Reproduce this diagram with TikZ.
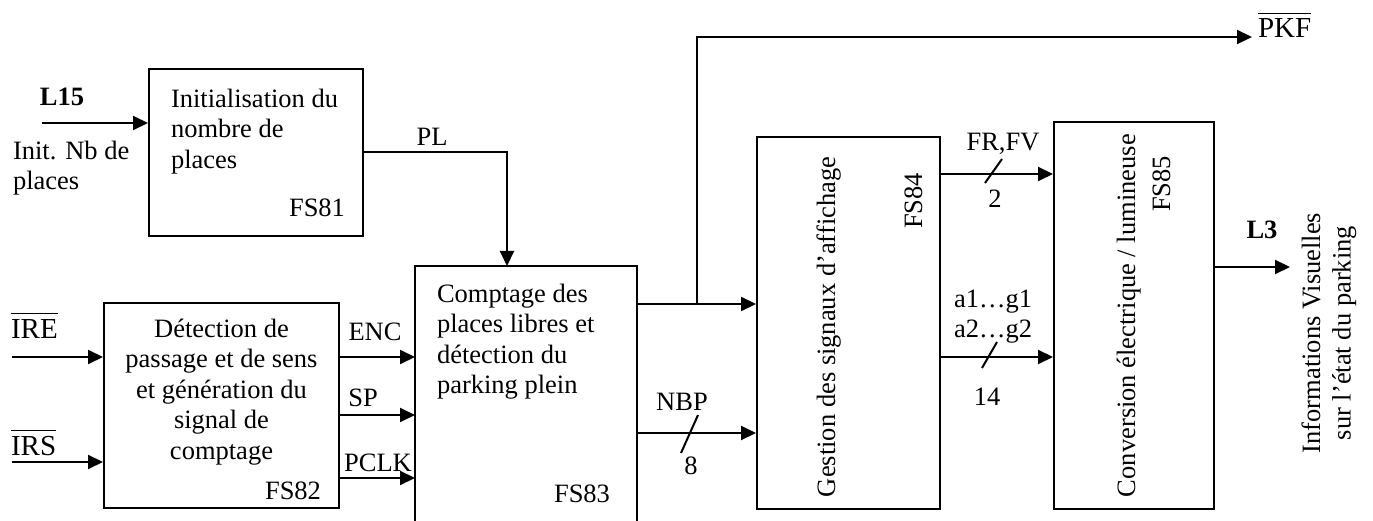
\documentclass[tikz,border=0pt]{standalone}
\usepackage{fontspec}
\setmainfont{Liberation Serif}
\usetikzlibrary{arrows.meta,positioning,calc}
\newcommand{\barre}[1]{\leavevmode\vbox{\hrule height 1.3pt\kern 5pt\hbox{#1}}}

\begin{document}
\begin{tikzpicture}[x=1pt,y=-1pt,line width=2pt,
  every node/.style={inner sep=0pt,font=\fontsize{26.5}{30.5}\selectfont},
  bloc/.style={draw,rectangle},
  arr/.style={-{Triangle[length=15pt,width=14pt]}},
  gras/.style={font=\fontsize{26.5}{30.5}\selectfont\bfseries},
  barlbl/.style={font=\fontsize{29}{32}\selectfont}]
  \useasboundingbox (0,0) rectangle (1373,521);
  % blocs fonctionnels
  \node[bloc,minimum width=214pt,minimum height=167pt] (f81) at (256,152.5) {};
  \node[bloc,minimum width=235pt,minimum height=205pt] (f82) at (221.5,405.5) {};
  \node[minimum width=220pt,minimum height=254pt] (f83) at (526,394) {};
  \draw (f83.south west) |- (f83.north east) -- (f83.south east);
  \node[bloc,minimum width=183pt,minimum height=372pt] (f84) at (848.5,323) {};
  \node[bloc,minimum width=160pt,minimum height=387pt] (f85) at (1134,315.5) {};
  % textes des blocs
  \node[anchor=north west,align=left] at (170,88) {Initialisation du\\nombre de\\places};
  \node[anchor=base east] at (346,217) {FS81};
  \node[anchor=north,align=center] at (221.5,318) {Détection de\\passage et de sens\\et génération du\\signal de\\comptage};
  \node[anchor=base east] at (322,499) {FS82};
  \node[anchor=north west,align=left] at (436,283) {Comptage des\\places libres et\\détection du\\parking plein};
  \node[anchor=base east] at (611,502) {FS83};
  \node[rotate=90,anchor=base west] at (835,498) {Gestion des signaux d’affichage};
  \node[rotate=90,anchor=base west] at (922,230) {FS84};
  \node[rotate=90,anchor=base west] at (1135,498) {Conversion électrique / lumineuse};
  \node[rotate=90,anchor=base west] at (1170,213) {FS85};
  % entrees
  \coordinate (l15) at (42,123);
  \coordinate (ire) at (12,357);
  \coordinate (irs) at (12,462);
  \node[gras,anchor=base] (tl15) at (62,106) {L15};
  \node[anchor=north west,align=left] (tinit) at (12,140) {Init. Nb de\\places};
  \node[barlbl,anchor=base west] (tire) at (10,338) {\barre{IRE}};
  \node[barlbl,anchor=base west] (tirs) at (10,455) {\barre{IRS}};
  \draw[arr] (l15) -- (l15 -| f81.west);
  \draw[arr] (ire) -- (ire -| f82.west);
  \draw[arr] (irs) -- (irs -| f82.west);
  % liaisons internes
  \coordinate (pl) at (507,152.5);
  \draw[arr] (f81.east) -- (pl) -- (pl |- f83.north);
  \node[anchor=base] (tpl) at (432,146) {PL};
  \foreach \y in {357,415,478}
    \draw[arr] (f82.east |- 0,\y) -- (f83.west |- 0,\y);
  \node[anchor=base] (tenc) at (375,340) {ENC};
  \node[anchor=base] (tsp) at (363,406) {SP};
  \node[anchor=base] (tpclk) at (378,471) {PCLK};
  \coordinate (br) at (697,304);
  \coordinate (pkf) at (1252,37);
  \draw[arr] (f83.east |- br) -- (f84.west |- br);
  \draw[arr] (br) |- (pkf);
  \node[barlbl,anchor=base west] (tpkf) at (1257,38) {\barre{PKF}};
  \draw[arr] (f83.east |- 0,433) -- (f84.west |- 0,433);
  \draw (698,415) -- (681,453);
  \node[anchor=base] (tnbp) at (682,410) {NBP};
  \node[anchor=base] (t8) at (691,474) {8};
  \draw[arr] (f84.east |- 0,174) -- (f85.west |- 0,174);
  \draw (1002,159) -- (985,183);
  \node[anchor=base] (tfr) at (1003,151) {FR,FV};
  \node[anchor=base] (t2) at (995,208) {2};
  \draw[arr] (f84.east |- 0,357) -- (f85.west |- 0,357);
  \draw (997,342) -- (982,368);
  \node[anchor=north,align=center] (tseg) at (993,289) {a1…g1\\a2…g2};
  \node[anchor=base] (t14) at (987,405) {14};
  % sortie
  \coordinate (l3) at (1290,267);
  \draw[arr] (f85.east |- l3) -- (l3);
  \node[gras,anchor=base] (tl3) at (1262,239) {L3};
  \node[rotate=90,align=center] (tinfo) at (1329,333) {Informations Visuelles\\sur l’état du parking};
\end{tikzpicture}
\end{document}
